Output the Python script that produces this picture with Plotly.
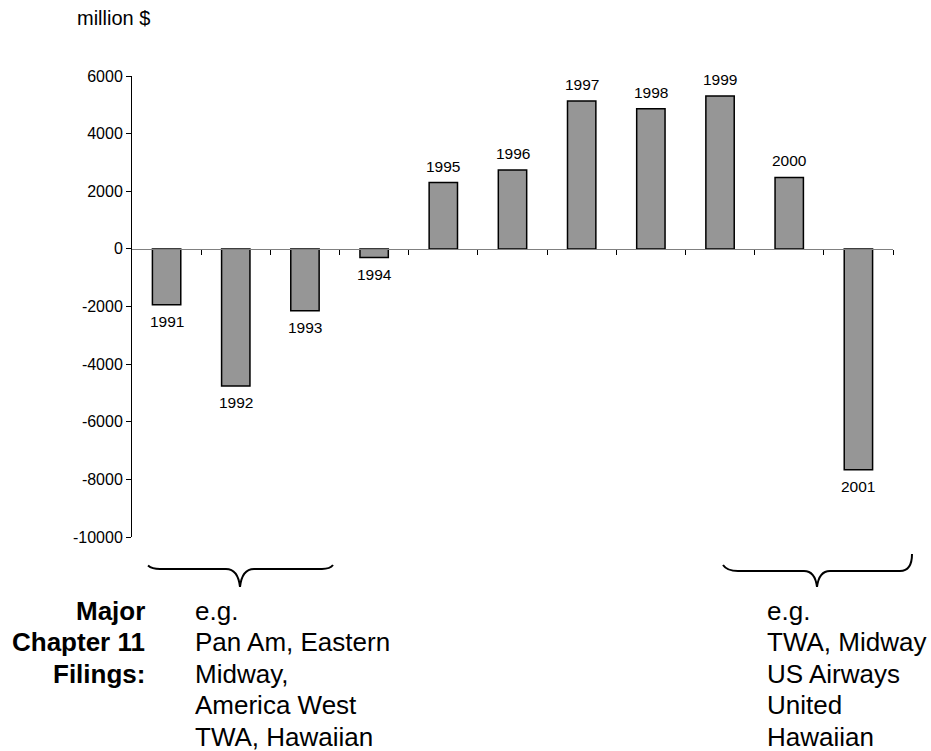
import plotly.graph_objects as go

# US airline industry net profit, million $
years = ["1991", "1992", "1993", "1994", "1995", "1996",
         "1997", "1998", "1999", "2000", "2001"]
net_profit = [-1940, -4760, -2150, -300, 2300, 2740,
              5130, 4860, 5310, 2480, -7670]

y_ticks = [-10000, -8000, -6000, -4000, -2000, 0, 2000, 4000, 6000]
y_tick_text = [str(v) for v in y_ticks]

filings_title = ["Major", "Chapter 11", "Filings:"]
filings_early = ["e.g.", "Pan Am, Eastern", "Midway,", "America West", "TWA, Hawaiian"]
filings_late = ["e.g.", "TWA, Midway", "US Airways", "United", "Hawaiian"]

W, H = 931, 751
L, R, T, B = 132, 38, 76, 214
PW, PH = W - L - R, H - T - B
FONT = "Liberation Sans, Arial, sans-serif"


def px_x(px):
    return (px - L) / PW


def px_y(py):
    return (H - B - py) / PH


x_idx = list(range(len(years)))

fig = go.Figure()
fig.add_trace(go.Bar(
    x=x_idx, y=net_profit,
    marker=dict(color="#969696", line=dict(color="#000000", width=1.5)),
    width=0.41,
    hoverinfo="skip",
))

annotations = []
# year labels above positive bars, below negative ones
for i, (yr, v) in enumerate(zip(years, net_profit)):
    annotations.append(dict(
        x=i, y=v, xref="x", yref="y", text=yr, showarrow=False,
        yanchor="bottom" if v >= 0 else "top",
        yshift=6 if v >= 0 else -6,
        font=dict(family=FONT, size=15.5, color="#000000"),
    ))

annotations.append(dict(
    x=px_x(75), y=px_y(18), xref="paper", yref="paper", text="million $",
    showarrow=False, xanchor="left", yanchor="middle",
    font=dict(family=FONT, size=20, color="#000000"),
))

row_centers = [611, 642, 674, 705, 737]
for row, txt in zip(row_centers, filings_title):
    annotations.append(dict(
        x=px_x(147), y=px_y(row), xref="paper", yref="paper",
        text="<b>%s</b>" % txt, showarrow=False, xanchor="right", yanchor="middle",
        font=dict(family=FONT, size=26, color="#000000"),
    ))
for row, txt in zip(row_centers, filings_early):
    annotations.append(dict(
        x=px_x(193), y=px_y(row), xref="paper", yref="paper",
        text=txt, showarrow=False, xanchor="left", yanchor="middle",
        font=dict(family=FONT, size=26, color="#000000"),
    ))
for row, txt in zip(row_centers, filings_late):
    annotations.append(dict(
        x=px_x(765), y=px_y(row), xref="paper", yref="paper",
        text=txt, showarrow=False, xanchor="left", yanchor="middle",
        font=dict(family=FONT, size=26, color="#000000"),
    ))


def brace_path(pts):
    # pts: list of ("M"/"L"/"Q", pixel coords...) converted to paper coords
    out = []
    for seg in pts:
        cmd, coords = seg[0], seg[1:]
        conv = []
        for k in range(0, len(coords), 2):
            conv.append("%.5f,%.5f" % (px_x(coords[k]), px_y(coords[k + 1])))
        out.append(cmd + " " + " ".join(conv))
    return " ".join(out)


left_brace = brace_path([
    ("M", 148, 565.5),
    ("Q", 152, 569, 160, 569),
    ("L", 226, 569),
    ("Q", 238, 569, 240, 587),
    ("Q", 242, 569, 254, 569),
    ("L", 322, 569),
    ("Q", 330, 569, 333, 565),
])
right_brace = brace_path([
    ("M", 723, 565),
    ("Q", 727, 571, 738, 571),
    ("L", 804, 571),
    ("Q", 815, 571, 817, 587),
    ("Q", 819, 571, 830, 571),
    ("L", 900, 571),
    ("Q", 912, 571, 912, 554),
])

shapes = [
    dict(type="path", path=left_brace, xref="paper", yref="paper",
         line=dict(color="#000000", width=2)),
    dict(type="path", path=right_brace, xref="paper", yref="paper",
         line=dict(color="#000000", width=2)),
]

fig.update_layout(
    width=W, height=H,
    margin=dict(l=L, r=R, t=T, b=B, pad=0),
    paper_bgcolor="#ffffff", plot_bgcolor="#ffffff",
    showlegend=False,
    annotations=annotations,
    shapes=shapes,
    font=dict(family=FONT, color="#000000"),
    xaxis=dict(
        range=[-0.5, 10.5],
        anchor="free", position=0.625,
        showgrid=False, zeroline=False,
        showline=True, linecolor="#808080", linewidth=1,
        tickmode="array", tickvals=[k + 0.5 for k in range(len(years))],
        ticks="outside", ticklen=5, tickcolor="#000000", tickwidth=1,
        showticklabels=False,
    ),
    yaxis=dict(
        range=[-10000, 6000],
        showgrid=False, zeroline=False,
        showline=True, linecolor="#000000", linewidth=1,
        tickmode="array", tickvals=y_ticks, ticktext=y_tick_text,
        ticks="outside", ticklen=5, tickcolor="#000000", tickwidth=1,
        tickfont=dict(family=FONT, size=16, color="#000000"),
    ),
)

fig.write_html("out.html")
